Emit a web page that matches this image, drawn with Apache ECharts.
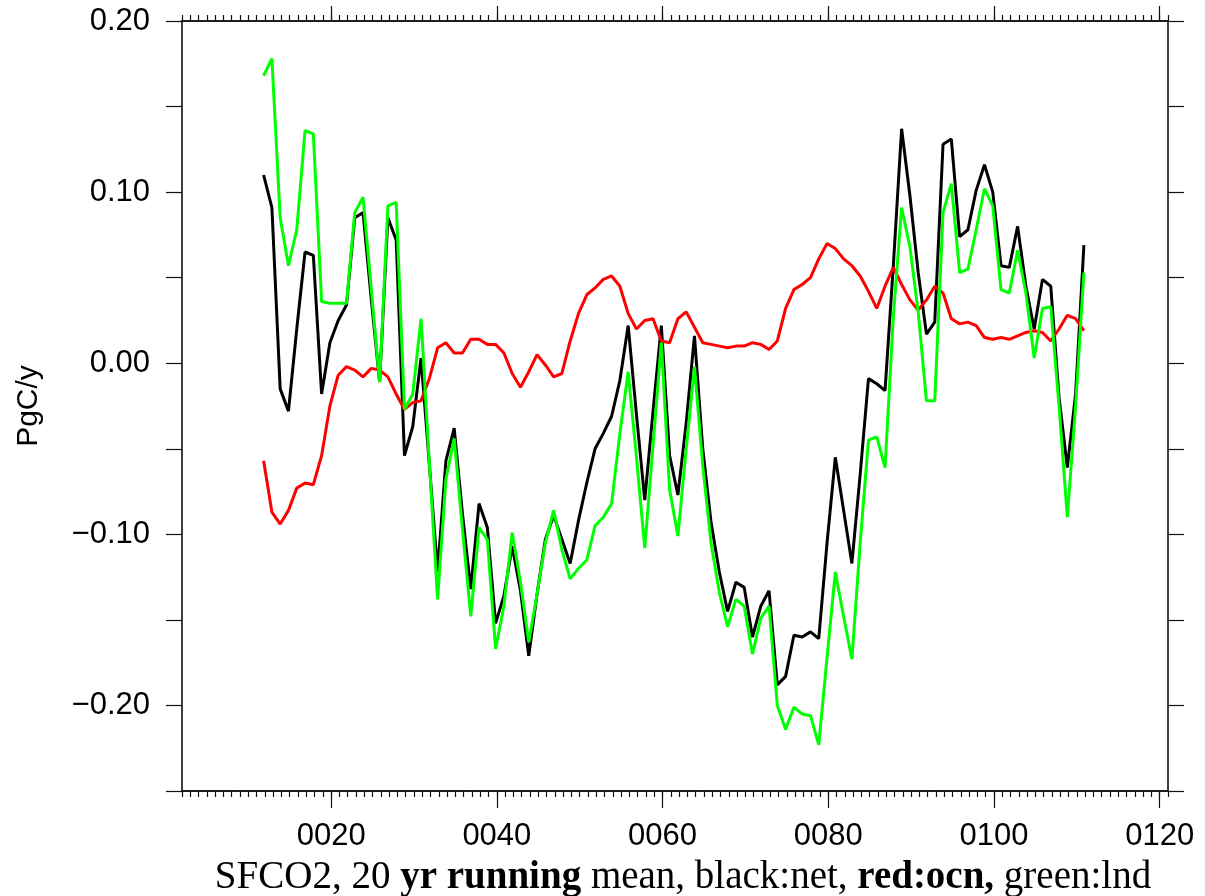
<!DOCTYPE html>
<html>
<head>
<meta charset="utf-8">
<script src="https://cdn.jsdelivr.net/npm/echarts@6/dist/echarts.min.js"></script>
<style>
  html, body { margin: 0; padding: 0; background: #fff; }
  #chart { width: 1205px; height: 896px; }
</style>
</head>
<body>
<div id="chart"></div>
<script>
// Positions (model years) of the 20-yr running-mean points
const years = Array.from({ length: 100 }, (_, i) => 11.85 + i);

// black: net
const net = [
  0.110, 0.091, -0.015, -0.028, 0.020, 0.065, 0.063, -0.018, 0.012, 0.025,
  0.034, 0.085, 0.088, 0.037, -0.011, 0.085, 0.072, -0.054, -0.037, 0.003,
  -0.059, -0.122, -0.057, -0.038, -0.088, -0.132, -0.082, -0.096, -0.152, -0.136,
  -0.107, -0.133, -0.171, -0.135, -0.103, -0.089, -0.103, -0.117, -0.092, -0.070,
  -0.050, -0.041, -0.031, -0.010, 0.022, -0.030, -0.080, -0.028, 0.022, -0.054,
  -0.077, -0.035, 0.016, -0.050, -0.093, -0.122, -0.145, -0.128, -0.131, -0.160,
  -0.142, -0.133, -0.188, -0.183, -0.159, -0.160, -0.157, -0.161, -0.105, -0.055,
  -0.086, -0.117, -0.065, -0.009, -0.012, -0.016, 0.057, 0.137, 0.098, 0.053,
  0.017, 0.024, 0.128, 0.131, 0.074, 0.078, 0.101, 0.116, 0.100, 0.057,
  0.056, 0.080, 0.045, 0.020, 0.049, 0.045, -0.020, -0.061, -0.018, 0.069
];

// red: ocn
const ocn = [
  -0.057, -0.087, -0.094, -0.086, -0.073, -0.070, -0.071, -0.054, -0.025, -0.007,
  -0.002, -0.004, -0.008, -0.003, -0.004, -0.008, -0.018, -0.027, -0.023, -0.022,
  -0.009, 0.009, 0.012, 0.006, 0.006, 0.014, 0.014, 0.011, 0.011, 0.006,
  -0.006, -0.014, -0.005, 0.005, -0.001, -0.008, -0.006, 0.013, 0.029, 0.040,
  0.044, 0.049, 0.051, 0.045, 0.029, 0.020, 0.025, 0.026, 0.013, 0.012,
  0.026, 0.030, 0.021, 0.012, 0.011, 0.010, 0.009, 0.010, 0.010, 0.012,
  0.011, 0.008, 0.013, 0.032, 0.043, 0.046, 0.050, 0.061, 0.070, 0.067,
  0.061, 0.057, 0.051, 0.042, 0.032, 0.045, 0.056, 0.046, 0.037, 0.031,
  0.037, 0.045, 0.041, 0.026, 0.023, 0.024, 0.022, 0.015, 0.014, 0.015,
  0.014, 0.016, 0.018, 0.019, 0.018, 0.013, 0.020, 0.028, 0.026, 0.019
];

// green: lnd
const lnd = [
  0.168, 0.178, 0.085, 0.057, 0.078, 0.136, 0.134, 0.036, 0.035, 0.035,
  0.035, 0.088, 0.097, 0.043, -0.011, 0.092, 0.094, -0.027, -0.018, 0.026,
  -0.058, -0.138, -0.068, -0.044, -0.097, -0.148, -0.096, -0.103, -0.167, -0.142,
  -0.099, -0.128, -0.163, -0.135, -0.105, -0.086, -0.109, -0.126, -0.120, -0.115,
  -0.095, -0.090, -0.082, -0.041, -0.005, -0.055, -0.108, -0.048, 0.012, -0.074,
  -0.101, -0.050, -0.002, -0.060, -0.105, -0.134, -0.154, -0.138, -0.142, -0.170,
  -0.149, -0.142, -0.200, -0.214, -0.201, -0.205, -0.206, -0.223, -0.172, -0.122,
  -0.148, -0.173, -0.105, -0.045, -0.043, -0.061, 0.027, 0.091, 0.068, 0.030,
  -0.022, -0.022, 0.088, 0.105, 0.053, 0.055, 0.078, 0.102, 0.092, 0.043,
  0.041, 0.066, 0.041, 0.003, 0.032, 0.033, -0.025, -0.090, -0.025, 0.053
];

// Tick values
const xMajorTicks = [20, 40, 60, 80, 100, 120];
const xMinorTicks = Array.from({ length: 120 }, (_, i) => 2 + i);
const yLabelValues = [0.20, 0.10, 0.00, -0.10, -0.20];

const X_MIN = 2, X_MAX = 121;
const Y_MIN = -0.25, Y_MAX = 0.20, Y_STEP = 0.05;

const SANS = 'Liberation Sans';
const SERIF = 'Liberation Serif';
const AXIS_COLOR = '#111';

function pairs(vals) { return vals.map((v, i) => [years[i], v]); }

function xAxisDef(pos, ticks, len, labels) {
  return {
    type: 'value', position: pos, min: X_MIN, max: X_MAX,
    axisLine: { show: true, onZero: false, lineStyle: { color: AXIS_COLOR, width: 1.6 } },
    axisTick: { show: true, inside: false, length: len, customValues: ticks,
                lineStyle: { color: AXIS_COLOR, width: 1.2 } },
    axisLabel: labels ? {
      show: true, customValues: xMajorTicks, margin: 30,
      fontFamily: SANS, fontSize: 31, color: '#000',
      formatter: v => String(Math.round(v)).padStart(4, '0')
    } : { show: false },
    splitLine: { show: false }
  };
}

function yAxisDef(pos, labels) {
  return {
    type: 'value', position: pos, min: Y_MIN, max: Y_MAX, interval: Y_STEP,
    name: labels ? 'PgC/y' : '', nameLocation: 'middle', nameGap: 138,
    nameTextStyle: { fontFamily: SANS, fontSize: 30, color: '#000' },
    axisLine: { show: true, onZero: false, lineStyle: { color: AXIS_COLOR, width: 1.6 } },
    axisTick: { show: true, inside: false, length: 16, lineStyle: { color: AXIS_COLOR, width: 1.2 } },
    axisLabel: labels ? {
      show: true, margin: 32, showMaxLabel: true, showMinLabel: true,
      fontFamily: SANS, fontSize: 31, color: '#000',
      formatter: v => {
        const c = Math.round(v * 100);
        if (c % 10 !== 0) return '';
        const s = (Math.abs(c) / 100).toFixed(2);
        return c < 0 ? '\u2212' + s : s;
      }
    } : { show: false },
    splitLine: { show: false }
  };
}

const chart = echarts.init(document.getElementById('chart'), null, { renderer: 'canvas' });

chart.setOption({
  backgroundColor: '#fff',
  animation: false,
  title: {
    left: 678, top: 853, textAlign: 'center',
    text: '{n|SFCO2, 20 }{b|yr running}{n| mean, black:net, }{b|red:ocn,}{n| green:lnd}',
    textStyle: {
      rich: {
        n: { fontFamily: SERIF, fontSize: 39, color: '#000', fontWeight: 'normal' },
        b: { fontFamily: SERIF, fontSize: 39, color: '#000', fontWeight: 'bold' }
      }
    }
  },
  grid: { left: 182, right: 37, top: 21, bottom: 105, containLabel: false },
  xAxis: [
    xAxisDef('bottom', xMajorTicks, 17, true),
    xAxisDef('bottom', xMinorTicks, 6, false),
    xAxisDef('top', xMajorTicks, 15, false),
    xAxisDef('top', xMinorTicks, 6, false)
  ],
  yAxis: [yAxisDef('left', true), yAxisDef('right', false)],
  series: [
    { name: 'net', type: 'line', data: pairs(net), showSymbol: false, xAxisIndex: 0, yAxisIndex: 0,
      lineStyle: { color: '#000000', width: 3 }, itemStyle: { color: '#000' }, z: 2 },
    { name: 'ocn', type: 'line', data: pairs(ocn), showSymbol: false, xAxisIndex: 0, yAxisIndex: 0,
      lineStyle: { color: '#ff0000', width: 3 }, itemStyle: { color: '#f00' }, z: 3 },
    { name: 'lnd', type: 'line', data: pairs(lnd), showSymbol: false, xAxisIndex: 0, yAxisIndex: 0,
      lineStyle: { color: '#00ff00', width: 3 }, itemStyle: { color: '#0f0' }, z: 4 }
  ]
});
</script>
</body>
</html>
